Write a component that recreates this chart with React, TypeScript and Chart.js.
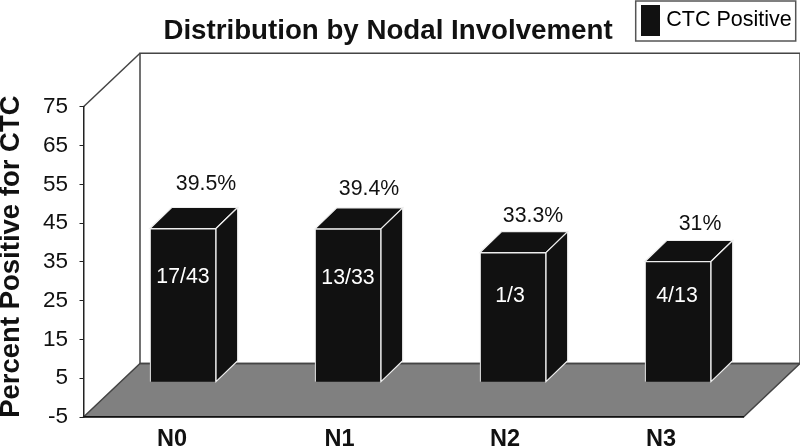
import React, { useEffect, useRef } from "react";
import { Chart, registerables } from "chart.js";

Chart.register(...registerables);

const categories = ["N0", "N1", "N2", "N3"];
const percentPositive = [39.5, 39.4, 33.3, 31];
const percentLabels = ["39.5%", "39.4%", "33.3%", "31%"];
const countLabels = ["17/43", "13/33", "1/3", "4/13"];
const seriesName = "CTC Positive";

const FAMILY = "'Liberation Sans', Arial, sans-serif";
const INK = "#111111";
const WALL_LINE = "#444444";
const FLOOR = "#808080";

// 3D projection of the box and of each bar
const WALL_DX = 56.5;
const WALL_DY = 53.5;
const BAR_DX = 21.7;
const BAR_DY = 21;
const BAR_SHIFT = 17;

// hand placement of the annotations in the source figure
const tickNudge = [6, 8.5, 9, 0];
const percentNudgeX = [23, 21, 20, 22];
const percentGap = [44, 40, 36, 37];
const countNudgeX = [0, 0, -3, -1];
const countDrop = [49, 49, 44, 35];

const box3d = {
  id: "box3d",
  afterLayout(chart: any) {
    const legend = chart.legend;
    legend.left = 639.5;
    legend.right = 795;
    legend.top = 3.5;
    legend.bottom = 40;
    const title = chart.titleBlock;
    title.top = 0;
    title.left = -12;
    title.right = 788;
  },
  beforeDraw(chart: any) {
    const { ctx, chartArea: a } = chart;
    const top = a.top;
    const bottom = a.bottom;
    ctx.save();
    ctx.fillStyle = "#ffffff";
    ctx.fillRect(0, 0, chart.width, chart.height);
    ctx.strokeStyle = WALL_LINE;
    ctx.lineWidth = 1.5;
    ctx.lineJoin = "miter";

    // floor
    ctx.beginPath();
    ctx.moveTo(a.left, bottom);
    ctx.lineTo(a.left + WALL_DX, bottom - WALL_DY);
    ctx.lineTo(a.right + WALL_DX, bottom - WALL_DY);
    ctx.lineTo(a.right, bottom);
    ctx.closePath();
    ctx.fillStyle = FLOOR;
    ctx.fill();
    ctx.stroke();

    // back wall
    ctx.strokeRect(a.left + WALL_DX, top - WALL_DY, a.right - a.left, bottom - top);

    // side wall top edge
    ctx.beginPath();
    ctx.moveTo(a.left, top);
    ctx.lineTo(a.left + WALL_DX, top - WALL_DY);
    ctx.stroke();

    // legend frame
    ctx.strokeStyle = "#555555";
    ctx.strokeRect(635.7, 1, 160, 40);
    ctx.restore();
  },
  beforeDatasetsDraw(chart: any) {
    const { ctx } = chart;
    ctx.save();
    ctx.translate(BAR_SHIFT, 0);
    const bars = chart.getDatasetMeta(0).data;
    ctx.fillStyle = INK;
    ctx.strokeStyle = "#eeeeee";
    ctx.lineWidth = 1.2;
    bars.forEach((bar: any) => {
      const half = bar.width / 2;
      const l = bar.x - half;
      const r = bar.x + half;
      const t = bar.y;
      const b = bar.base;
      ctx.beginPath();
      ctx.moveTo(l, t);
      ctx.lineTo(l + BAR_DX, t - BAR_DY);
      ctx.lineTo(r + BAR_DX, t - BAR_DY);
      ctx.lineTo(r, t);
      ctx.closePath();
      ctx.fill();
      ctx.stroke();
      ctx.beginPath();
      ctx.moveTo(r, t);
      ctx.lineTo(r + BAR_DX, t - BAR_DY);
      ctx.lineTo(r + BAR_DX, b - BAR_DY);
      ctx.lineTo(r, b);
      ctx.closePath();
      ctx.fill();
      ctx.stroke();
    });
  },
  afterDatasetsDraw(chart: any) {
    const { ctx } = chart;
    const bars = chart.getDatasetMeta(0).data;
    ctx.font = `21.3px ${FAMILY}`;
    ctx.textAlign = "center";
    ctx.textBaseline = "middle";
    bars.forEach((bar: any, i: number) => {
      ctx.fillStyle = "#ffffff";
      ctx.fillText(countLabels[i], bar.x + countNudgeX[i], bar.y + countDrop[i]);
      ctx.fillStyle = INK;
      ctx.fillText(percentLabels[i], bar.x + percentNudgeX[i], bar.y - percentGap[i]);
    });
    ctx.restore();
  },
};

export default function App() {
  const ref = useRef<HTMLCanvasElement | null>(null);

  useEffect(() => {
    const chart = new Chart(ref.current as HTMLCanvasElement, {
      type: "bar",
      data: {
        labels: categories,
        datasets: [
          {
            label: seriesName,
            data: percentPositive,
            yAxisID: "y2",
            backgroundColor: INK,
            borderColor: "#eeeeee",
            borderWidth: 1.2,
            barThickness: 66,
          },
        ],
      },
      options: {
        responsive: false,
        animation: false,
        devicePixelRatio: 1,
        layout: { padding: { top: 0, left: 0, bottom: 0, right: 56.5 } },
        font: { family: FAMILY },
        plugins: {
          tooltip: { enabled: false },
          title: {
            display: true,
            text: "Distribution by Nodal Involvement",
            color: INK,
            font: { family: FAMILY, size: 27.7, weight: "bold" },
            padding: { top: 14.5, bottom: 21 },
          },
          legend: {
            display: true,
            position: "top",
            align: "start",
            labels: {
              boxWidth: 10,
              boxHeight: 22,
              padding: 6,
              color: INK,
              font: { family: FAMILY, size: 21.5 },
              generateLabels: () => [
                {
                  text: seriesName,
                  fillStyle: INK,
                  strokeStyle: INK,
                  lineWidth: 9,
                  hidden: false,
                  datasetIndex: 0,
                },
              ],
            },
          },
        },
        scales: {
          x: {
            type: "category",
            offset: true,
            grid: { display: false },
            border: { display: true, color: "#111111", width: 1.5 },
            ticks: {
              autoSkip: false,
              maxRotation: 0,
              padding: 0,
              color: INK,
              font: { family: FAMILY, size: 23.5, weight: "bold" },
              callback: (value: any) => categories[Math.round(value)],
            },
            afterBuildTicks: (scale: any) => {
              scale.ticks = scale.ticks.map((t: any, i: number) => ({
                value: t.value + tickNudge[i] / 165,
              }));
            },
            afterFit: (scale: any) => {
              scale.height = 30;
            },
          },
          y: {
            type: "linear",
            position: "left",
            min: -5,
            max: 75,
            ticks: {
              stepSize: 10,
              padding: 11.5,
              color: INK,
              font: { family: FAMILY, size: 22.5 },
            },
            grid: {
              drawOnChartArea: false,
              drawTicks: true,
              tickLength: 4,
              tickColor: "#222222",
            },
            border: { display: true, color: "#222222", width: 1.5 },
            title: {
              display: true,
              text: "Percent Positive for CTC",
              color: INK,
              padding: 0,
              font: { family: FAMILY, size: 27.5, weight: "bold", lineHeight: 0.8 },
            },
            afterFit: (scale: any) => {
              scale.width = 83.5;
              if (!scale.__titlePatched) {
                const draw = scale.drawTitle;
                scale.drawTitle = function () {
                  const { top, bottom } = this;
                  this.top = top - 11.5;
                  this.bottom = bottom + 1;
                  draw.call(this);
                  this.top = top;
                  this.bottom = bottom;
                };
                scale.__titlePatched = true;
              }
            },
          },
          y2: {
            type: "linear",
            display: false,
            min: -9.1,
            max: 70.9,
          },
        },
      } as any,
      plugins: [box3d],
    });
    return () => chart.destroy();
  }, []);

  return (
    <div style={{ position: "fixed", left: 0, top: 0, width: 800, height: 447 }}>
      <canvas ref={ref} width={800} height={447} style={{ display: "block" }} />
    </div>
  );
}
